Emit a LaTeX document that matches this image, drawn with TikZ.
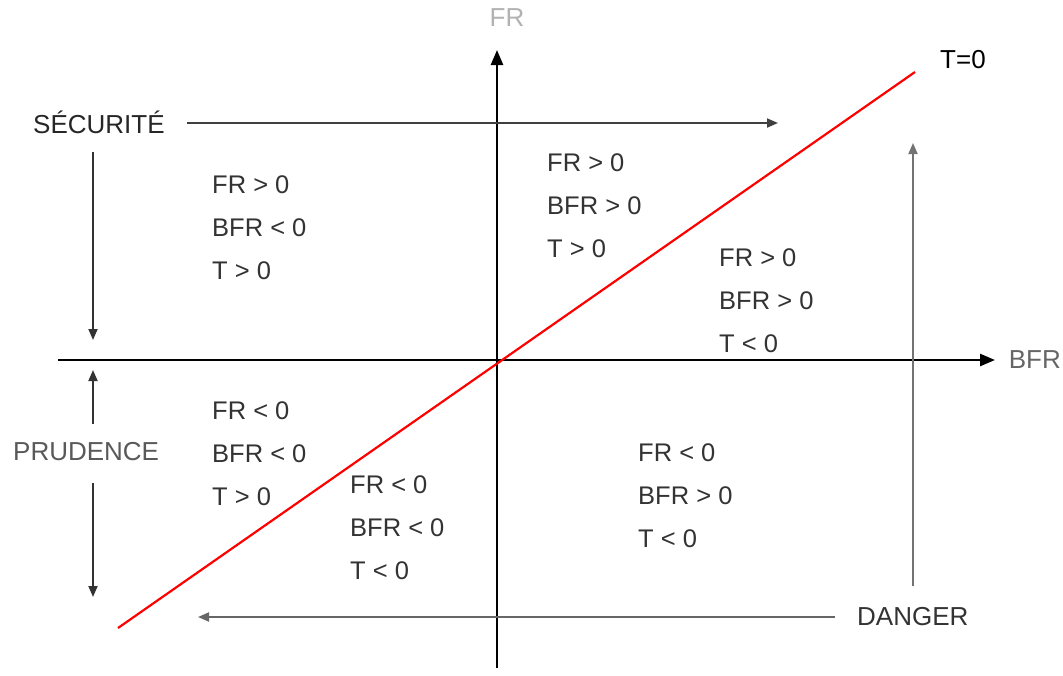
\documentclass[tikz,border=0pt]{standalone}
\usepackage{fontspec}
\setmainfont{Liberation Sans}
\usetikzlibrary{arrows.meta}
\definecolor{txt}{HTML}{333333}
\begin{document}
\begin{tikzpicture}[x=1pt,y=-1pt,
  lbl/.style={inner sep=0pt,font=\fontsize{26}{30}\selectfont},
  block/.style={inner sep=0pt,anchor=north west,align=left,text=txt,font=\fontsize{25.5}{43}\selectfont},
  axis/.style={line width=2.6pt,-{Triangle[length=15pt,width=12pt]}},
  arr/.style={line width=1.8pt,-{Triangle[length=11pt,width=9pt]}}]
\useasboundingbox[fill=white] (0,0) rectangle (1063,675);
% axes
\coordinate (xs) at (58,360);
\coordinate (xe) at (995,360);
\coordinate (ys) at (497,668);
\coordinate (ye) at (497,50);
\draw[axis] (xs) -- (xe);
\draw[axis] (ys) -- (ye);
\node[lbl,text=black!60,anchor=east] (bfr) at (1061,360) {BFR};
\node[lbl,text=black!30] (fr) at (507,18) {FR};
% red line
\coordinate (r1) at (118,628);
\coordinate (r2) at (915,72);
\draw[red,line width=2.2pt] (r1) -- (r2);
\node[lbl,anchor=west,text=black] (t0) at (940,60) {T=0};
% labels
\node[lbl,anchor=west,text=black!85] (sec) at (33,122) {SÉCURITÉ};
\node[lbl,anchor=west,text=black!65] (pru) at (13,452) {PRUDENCE};
\node[lbl,anchor=west,text=black!80] (dan) at (857,617) {DANGER};
% arrows
\coordinate (secS) at (187,123);
\coordinate (secE) at (778,123);
\draw[arr,black!75] (secS) -- (secE);
\coordinate (s1) at (93,152);
\coordinate (s2) at (93,340);
\draw[arr,black!80] (s1) -- (s2);
\coordinate (p1) at (93,424);
\coordinate (p2) at (93,370);
\draw[arr,black!80] (p1) -- (p2);
\coordinate (p3) at (93,483);
\coordinate (p4) at (93,597);
\draw[arr,black!80] (p3) -- (p4);
\coordinate (d1) at (835,617);
\coordinate (d2) at (198,617);
\draw[arr,black!60] (d1) -- (d2);
\coordinate (v1) at (913,586);
\coordinate (v2) at (913,143);
\draw[arr,black!55] (v1) -- (v2);
% blocks
\node[block] (b1) at (212,175) {FR > 0\\BFR < 0\\T > 0};
\node[block] (b2) at (547,153) {FR > 0\\BFR > 0\\T > 0};
\node[block] (b3) at (719,248) {FR > 0\\BFR > 0\\T < 0};
\node[block] (b4) at (212,401) {FR < 0\\BFR < 0\\T > 0};
\node[block] (b5) at (350,475) {FR < 0\\BFR < 0\\T < 0};
\node[block] (b6) at (638,443) {FR < 0\\BFR > 0\\T < 0};
\end{tikzpicture}
\end{document}
